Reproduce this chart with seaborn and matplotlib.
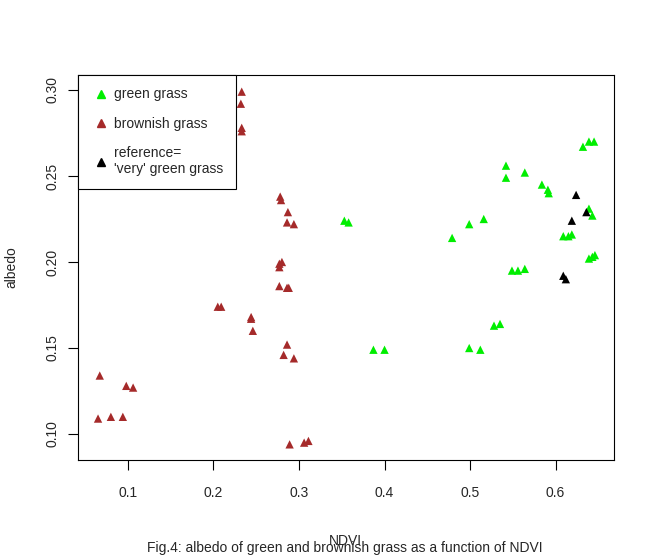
import numpy as np
import pandas as pd
import matplotlib
matplotlib.use("Agg")
import matplotlib.pyplot as plt
import seaborn as sns

# values
brown_x = [0.233, 0.232, 0.233, 0.233, 0.278, 0.279, 0.287, 0.286, 0.294, 0.277, 0.280, 0.277,
           0.277, 0.286, 0.288, 0.205, 0.209, 0.244, 0.244, 0.246, 0.286, 0.282, 0.294,
           0.067, 0.098, 0.106, 0.065, 0.080, 0.094, 0.289, 0.306, 0.311]
brown_y = [0.299, 0.292, 0.278, 0.276, 0.238, 0.236, 0.229, 0.223, 0.222, 0.199, 0.200, 0.197,
           0.186, 0.185, 0.185, 0.174, 0.174, 0.168, 0.167, 0.160, 0.152, 0.146, 0.144,
           0.134, 0.128, 0.127, 0.109, 0.110, 0.110, 0.094, 0.095, 0.096]
green_x = [0.353, 0.358, 0.387, 0.400, 0.479, 0.499, 0.516, 0.499, 0.512, 0.528, 0.535,
           0.542, 0.542, 0.564, 0.584, 0.591, 0.592, 0.549, 0.556, 0.564, 0.609, 0.615, 0.619,
           0.632, 0.639, 0.645, 0.639, 0.643, 0.639, 0.643, 0.646]
green_y = [0.224, 0.223, 0.149, 0.149, 0.214, 0.222, 0.225, 0.150, 0.149, 0.163, 0.164,
           0.256, 0.249, 0.252, 0.245, 0.242, 0.240, 0.195, 0.195, 0.196, 0.215, 0.215, 0.216,
           0.267, 0.270, 0.270, 0.231, 0.227, 0.202, 0.203, 0.204]
ref_x = [0.624, 0.619, 0.636, 0.609, 0.612]
ref_y = [0.239, 0.224, 0.229, 0.192, 0.190]

labels = ["green grass", "brownish grass", "reference=\n'very' green grass"]
colors = ["#00ee00", "#a52a2a", "black"]

df = pd.DataFrame({
    "NDVI": green_x + brown_x + ref_x,
    "albedo": green_y + brown_y + ref_y,
    "type": [labels[0]] * len(green_x) + [labels[1]] * len(brown_x) + [labels[2]] * len(ref_x),
})

sns.set_style("white")
plt.rcParams["font.family"] = ["Liberation Sans", "DejaVu Sans"]

fig = plt.figure(figsize=(6.55, 5.58), dpi=100)
ax = fig.add_axes([0.119, 0.1756, 0.818, 0.69])
sns.scatterplot(data=df, x="NDVI", y="albedo", hue="type", palette=colors,
                marker="^", s=36, edgecolor="none", ax=ax, legend=False)

ax.set_xlim(0.0415, 0.668)
ax.set_ylim(0.0849, 0.3087)
ax.set_xticks([0.1, 0.2, 0.3, 0.4, 0.5, 0.6])
ax.set_xticklabels(["0.1", "0.2", "0.3", "0.4", "0.5", "0.6"])
ax.set_yticks([0.10, 0.15, 0.20, 0.25, 0.30])
ax.set_yticklabels(["0.10", "0.15", "0.20", "0.25", "0.30"], rotation=90, va="center")
ax.tick_params(direction="out", length=7, labelsize=10, left=True, bottom=True, color="black")
ax.tick_params(axis="x", pad=12)
ax.tick_params(axis="y", pad=6)
for sp in ax.spines.values():
    sp.set_color("black")
    sp.set_linewidth(0.8)
ax.set_xlabel("NDVI", fontsize=10, labelpad=24)
ax.set_ylabel("albedo", fontsize=10, labelpad=20)

handles = [plt.Line2D([], [], marker="^", color=c, ls="none", markersize=5.5) for c in colors]
leg = ax.legend(handles, labels, loc="upper left", borderaxespad=0, fontsize=10,
                fancybox=False, framealpha=1, edgecolor="black", handletextpad=0.2,
                handlelength=1.5, labelspacing=1.1, borderpad=0.9)
leg.get_frame().set_linewidth(0.8)

fig.text(0.527, 0.01, "Fig.4: albedo of green and brownish grass as a function of NDVI",
         ha="center", fontsize=10)

fig.savefig("out.png", dpi=100)
